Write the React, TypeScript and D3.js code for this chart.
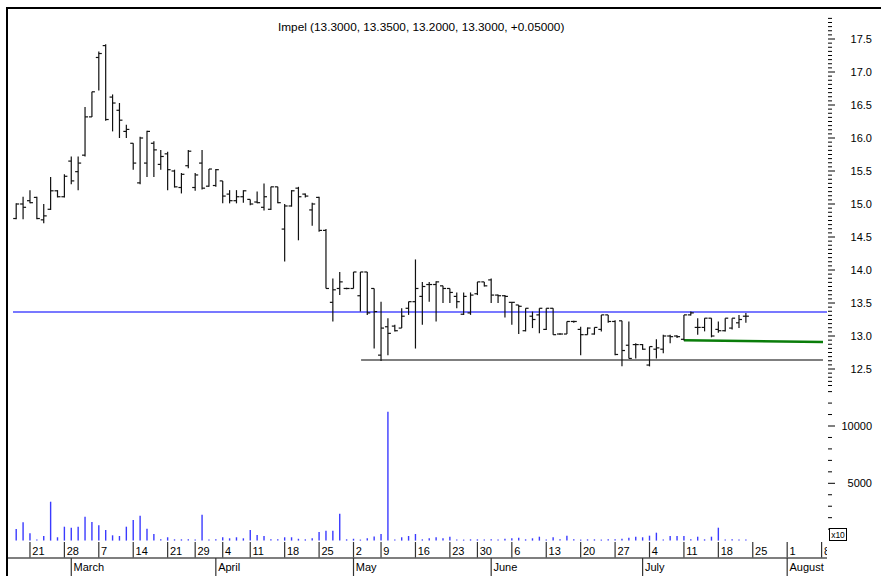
import React from "react";
import * as d3 from "d3";

// ---- Data (trading-day index 0 = Feb 17) ----
const opens = [14.78,15.00,15.05,15.10,14.76,14.92,15.20,15.11,15.65,15.49,15.74,16.32,17.22,17.40,16.62,16.42,16.10,15.92,15.32,15.62,15.92,15.60,15.76,15.50,15.25,15.58,15.25,15.62,15.27,15.28,15.35,15.15,15.05,15.11,15.07,15.03,14.95,14.92,15.26,14.62,14.97,15.24,15.15,14.91,15.10,14.60,13.51,13.72,13.72,13.72,13.61,13.97,13.72,12.71,13.14,13.15,13.12,13.42,13.52,13.60,13.78,13.78,13.76,13.72,13.60,13.33,13.35,13.64,13.82,13.85,13.62,13.61,13.51,13.47,13.08,13.30,13.32,13.10,13.42,13.03,13.03,13.22,13.10,13.02,13.03,13.10,13.32,13.22,13.23,12.86,12.87,12.87,12.56,12.80,12.80,13.00,13.00,12.95,13.32,13.13,13.13,13.27,13.10,13.08,13.12,13.20,13.30];
const highs = [15.01,15.11,15.21,15.11,15.00,15.41,15.21,15.45,15.72,15.72,16.47,16.70,17.31,17.42,16.66,16.53,16.20,15.92,16.02,16.11,15.95,15.82,15.79,15.52,15.47,15.82,15.47,15.82,15.53,15.53,15.35,15.21,15.21,15.21,15.07,15.19,15.31,15.26,15.26,15.00,15.21,15.26,15.16,15.02,15.11,14.62,13.87,13.97,13.73,13.97,13.97,13.97,13.72,13.52,13.27,13.17,13.42,13.52,14.16,13.82,13.82,13.83,13.76,13.72,13.66,13.66,13.66,13.82,13.82,13.87,13.63,13.62,13.51,13.47,13.42,13.37,13.42,13.42,13.42,13.04,13.22,13.23,13.14,13.13,13.13,13.32,13.32,13.24,13.23,13.22,12.89,12.88,12.84,12.95,13.02,13.02,13.01,13.32,13.37,13.27,13.27,13.27,13.22,13.27,13.27,13.32,13.35];
const lows = [14.77,14.77,15.01,14.77,14.71,14.91,15.10,15.10,15.30,15.21,15.72,16.32,16.72,16.26,16.10,16.00,16.00,15.52,15.30,15.41,15.41,15.52,15.21,15.25,15.16,15.54,15.20,15.22,15.26,15.26,15.01,15.01,15.01,15.02,14.98,15.01,14.90,14.91,15.01,14.13,14.96,14.45,15.10,14.67,14.58,13.72,13.22,13.62,13.71,13.72,13.37,13.32,12.81,12.62,12.71,13.07,13.12,13.32,12.81,13.17,13.52,13.22,13.50,13.50,13.42,13.32,13.32,13.62,13.75,13.50,13.50,13.28,13.17,13.03,13.07,13.12,13.04,13.09,13.02,13.02,13.03,13.20,12.71,13.02,13.02,13.07,13.20,12.71,12.54,12.66,12.66,12.79,12.54,12.66,12.74,12.89,12.97,12.93,13.31,13.02,13.07,12.98,13.05,13.07,13.10,13.12,13.20];
const closes = [15.00,14.95,15.02,14.78,14.82,15.20,15.11,15.42,15.35,15.62,16.32,16.70,17.28,16.28,16.53,16.27,16.13,15.62,16.00,16.10,15.82,15.72,15.52,15.26,15.45,15.80,15.44,15.24,15.53,15.52,15.12,15.05,15.11,15.20,15.00,15.02,15.11,15.26,15.02,14.97,15.20,15.11,15.12,15.00,14.60,13.72,13.70,13.82,13.72,13.97,13.97,13.35,13.37,13.12,13.04,13.08,13.30,13.52,13.72,13.75,13.78,13.82,13.72,13.66,13.52,13.60,13.62,13.82,13.76,13.62,13.61,13.60,13.51,13.45,13.42,13.25,13.42,13.42,13.02,13.03,13.22,13.22,13.02,13.12,13.13,13.32,13.22,12.72,12.78,12.66,12.87,12.80,12.84,12.82,13.00,12.99,12.99,13.32,13.35,13.13,13.27,13.00,13.08,13.27,13.27,13.25,13.30];
const volumes = [1012,1597,637,50,400,3394,290,1213,1126,1213,2086,1623,1335,925,462,400,1213,1797,2173,1038,576,110,290,110,110,110,60,2260,60,110,290,200,290,200,925,490,400,110,110,290,290,160,110,200,750,864,864,2347,110,160,60,200,350,576,11248,60,290,400,576,110,200,290,200,340,50,50,110,110,50,110,50,170,200,250,110,200,340,50,290,110,430,110,50,110,110,50,110,110,170,250,340,290,430,690,50,400,400,400,110,340,110,340,1126,50,110,50,50];

const weekTickIdx = [2,7,12,17,22,26,30,34,39,44,49,53,58,63,67,72,77,82,87,92,97,102,107,112,117];
const weekTickLabels = ["21","28","7","14","21","29","4","11","18","25","2","9","16","23","30","6","13","20","27","4","11","18","25","1","8"];
const monthTickIdx = [8,29,49,69,91,112];
const monthTickLabels = ["March","April","May","June","July","August"];

const priceTickLabels = ["12.5","13.0","13.5","14.0","14.5","15.0","15.5","16.0","16.5","17.0","17.5"];
const volumeTickLabels = ["5000","10000"];

const title = "Impel (13.3000, 13.3500, 13.2000, 13.3000, +0.05000)";
const resistanceLevel = 13.364;
const supportLevel = 12.636;
const supportStartIdx = 50.1;
const trendStart = { idx: 97, price: 12.935 };
const trendEndPrice = 12.91;

const W = 881;
const H = 576;
const FONT = "'Liberation Sans', Arial, sans-serif";

export default function App() {
  const x = d3.scaleLinear().domain([0, 117]).range([16.2, 821.6]);
  const y = d3.scaleLinear().domain([12.5, 17.5]).range([369, 39]);
  const yv = d3.scaleLinear().domain([0, 10000]).range([540.6, 426]);
  const plotRight = 827;

  const priceMinor = d3.range(12.25, 17.82, 0.0625);
  const volMinor = d3.range(1000, 13001, 1000);

  const tw = 3;

  return (
    <svg width={W} height={H} style={{ position: "absolute", left: 0, top: 0, background: "#fff" }} fontFamily={FONT}>
      <defs>
        <clipPath id="plotclip">
          <rect x={0} y={0} width={plotRight} height={H} />
        </clipPath>
      </defs>
      <rect x={0} y={0} width={W} height={H} fill="#fff" />
      {/* frame */}
      <line x1={6} x2={W} y1={8} y2={8} stroke="#000" strokeWidth={2} />
      <line x1={7} x2={7} y1={7} y2={H} stroke="#000" strokeWidth={2} />

      {/* title */}
      <text x={278} y={31} fontSize={11.8} fill="#000">{title}</text>

      {/* horizontal reference lines */}
      <line x1={13} x2={plotRight} y1={y(resistanceLevel)} y2={y(resistanceLevel)} stroke="#4b4bff" strokeWidth={1.4} />
      <line x1={x(supportStartIdx)} x2={823} y1={y(supportLevel)} y2={y(supportLevel)} stroke="#000" strokeWidth={1.2} />
      <line x1={x(trendStart.idx)} x2={823} y1={y(trendStart.price)} y2={y(trendEndPrice)} stroke="#0a7d0a" strokeWidth={2.5} />

      {/* OHLC bars */}
      <g stroke="#111" strokeWidth={1.2}>
        {opens.map((o, i) => {
          const cx = x(i);
          return (
            <g key={i}>
              <line x1={cx} x2={cx} y1={y(highs[i])} y2={y(lows[i])} />
              <line x1={cx - tw} x2={cx} y1={y(o)} y2={y(o)} />
              <line x1={cx} x2={cx + tw} y1={y(closes[i])} y2={y(closes[i])} />
            </g>
          );
        })}
      </g>

      {/* volume bars */}
      <g stroke="#3a3aff" strokeWidth={1.4}>
        {volumes.map((v, i) => (
          <line key={i} x1={x(i)} x2={x(i)} y1={yv(0)} y2={Math.min(yv(v), yv(0) - 1)} />
        ))}
      </g>

      {/* price axis */}
      <g stroke="#000" strokeWidth={1}>
        {priceMinor.map((p, i) => {
          const major = Math.abs(p * 2 - Math.round(p * 2)) < 1e-6;
          return <line key={i} x1={828} x2={major ? 835 : 832} y1={y(p)} y2={y(p)} />;
        })}
      </g>
      <g fontSize={11} fill="#000" textAnchor="end">
        {priceTickLabels.map((t) => (
          <text key={t} x={872} y={y(+t)} dy="0.36em">{t}</text>
        ))}
      </g>

      {/* volume axis */}
      <g stroke="#000" strokeWidth={1}>
        {volMinor.map((v) => (
          <line key={v} x1={828} x2={v % 5000 === 0 ? 835 : 832} y1={yv(v)} y2={yv(v)} />
        ))}
      </g>
      <g fontSize={11} fill="#000" textAnchor="end">
        {volumeTickLabels.map((t) => (
          <text key={t} x={872} y={yv(+t)} dy="0.36em">{t}</text>
        ))}
      </g>
      <rect x={829.5} y={528.5} width={17} height={12} fill="#fff" stroke="#000" strokeWidth={1} />
      <text x={838} y={537.8} fontSize={8.5} textAnchor="middle" fill="#000">x10</text>

      {/* date axis */}
      <g clipPath="url(#plotclip)">
        <line x1={8} x2={plotRight} y1={558} y2={558} stroke="#000" strokeWidth={1.2} />
        <g stroke="#333" strokeWidth={1.2}>
          {weekTickIdx.map((idx) => (
            <line key={idx} x1={x(idx)} x2={x(idx)} y1={542} y2={557.5} />
          ))}
          {monthTickIdx.map((idx) => (
            <line key={"m" + idx} x1={x(idx)} x2={x(idx)} y1={558} y2={576} />
          ))}
        </g>
        <g fontSize={11} fill="#000">
          {weekTickIdx.map((idx, k) => (
            <text key={idx} x={x(idx) + 2.3} y={554.5}>{weekTickLabels[k]}</text>
          ))}
          {monthTickIdx.map((idx, k) => (
            <text key={"m" + idx} x={x(idx) + 2.3} y={570.5}>{monthTickLabels[k]}</text>
          ))}
        </g>
      </g>
    </svg>
  );
}
